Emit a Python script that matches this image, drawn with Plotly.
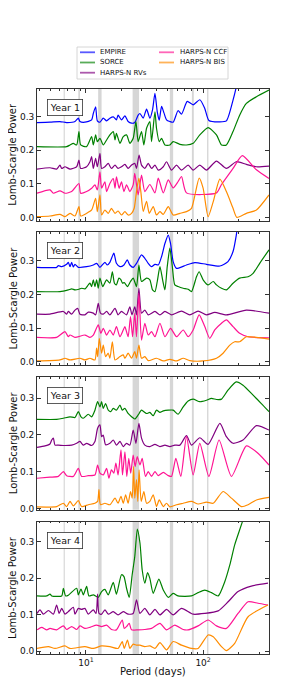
import plotly.graph_objects as go
import math

# ---------------- data (period in days, Lomb-Scargle power) ----------------
# Year 1
Y1_EMPIRE_P = [3.82, 4.93, 6.0, 6.84, 8.06, 8.6, 8.89, 9.8, 11.18, 11.55, 12.09, 12.5, 13.16, 14.05, 15.0, 16.0, 17.1, 18.2, 18.8, 20.1, 21.5, 22.9, 24.5, 26.1, 27.9, 28.9, 30.8, 32.9, 35.1, 37.0, 38.8, 40.6, 42.2, 44.2, 46.4, 48.7, 52.0, 55.5, 61.2, 65.4, 73.2, 82.2, 93.7, 103.3, 112, 139, 158, 180, 194, 234, 365]
Y1_EMPIRE_V = [0.283, 0.284, 0.286, 0.283, 0.286, 0.296, 0.286, 0.284, 0.291, 0.310, 0.330, 0.288, 0.284, 0.296, 0.288, 0.296, 0.300, 0.291, 0.305, 0.291, 0.303, 0.286, 0.281, 0.283, 0.305, 0.310, 0.296, 0.323, 0.296, 0.321, 0.370, 0.315, 0.290, 0.331, 0.311, 0.291, 0.286, 0.284, 0.319, 0.308, 0.346, 0.336, 0.351, 0.325, 0.289, 0.285, 0.288, 0.350, 0.397, 0.55, 0.8]
Y1_SORCE_P = [3.82, 6.84, 7.31, 7.8, 8.33, 8.71, 9.01, 10.13, 11.18, 11.55, 12.09, 12.5, 13.16, 14.05, 15.0, 16.0, 17.1, 17.7, 18.2, 19.5, 20.8, 22.2, 23.7, 25.3, 26.7, 27.9, 29.8, 31.2, 32.9, 35.1, 36.3, 38.8, 40.0, 42.2, 44.2, 47.2, 52.0, 55.5, 63.3, 72.1, 82.2, 93.7, 110.3, 130, 143.5, 158, 180, 205, 234, 285, 365]
Y1_SORCE_V = [0.211, 0.211, 0.216, 0.221, 0.216, 0.256, 0.216, 0.211, 0.241, 0.216, 0.246, 0.226, 0.236, 0.216, 0.231, 0.246, 0.256, 0.231, 0.251, 0.221, 0.241, 0.246, 0.221, 0.236, 0.286, 0.226, 0.256, 0.216, 0.266, 0.286, 0.226, 0.315, 0.266, 0.226, 0.236, 0.216, 0.216, 0.226, 0.218, 0.216, 0.221, 0.246, 0.268, 0.246, 0.216, 0.216, 0.256, 0.305, 0.340, 0.360, 0.380]
Y1_RVS_P = [3.82, 4.93, 5.62, 6.0, 6.21, 6.62, 7.31, 8.33, 8.71, 9.01, 10.13, 10.82, 11.18, 11.55, 12.09, 12.5, 13.16, 13.6, 14.51, 15.5, 16.5, 17.7, 18.8, 20.1, 21.5, 22.9, 24.5, 26.1, 27.0, 28.4, 29.8, 31.8, 34.0, 36.3, 38.8, 41.4, 45.7, 48.7, 53.7, 59.3, 65.4, 74.5, 82.2, 93.7, 106.8, 130, 158, 192, 234, 285, 365]
Y1_RVS_V = [0.144, 0.148, 0.144, 0.156, 0.146, 0.151, 0.144, 0.151, 0.171, 0.146, 0.151, 0.166, 0.181, 0.146, 0.176, 0.151, 0.191, 0.146, 0.151, 0.161, 0.146, 0.156, 0.146, 0.151, 0.158, 0.146, 0.156, 0.161, 0.146, 0.186, 0.156, 0.146, 0.161, 0.146, 0.156, 0.141, 0.151, 0.166, 0.141, 0.156, 0.141, 0.156, 0.141, 0.156, 0.141, 0.168, 0.146, 0.166, 0.158, 0.151, 0.153]
Y1_CCF_P = [3.82, 4.93, 5.27, 6.0, 6.62, 7.55, 8.71, 9.01, 10.13, 11.18, 11.93, 12.5, 13.16, 13.6, 14.51, 15.0, 16.0, 17.1, 17.7, 18.2, 19.2, 20.1, 21.1, 22.2, 23.7, 25.3, 26.1, 27.9, 29.8, 31.8, 35.1, 38.8, 41.4, 45.7, 50.4, 55.5, 61.2, 65.4, 72.1, 130, 143.5, 180, 216, 285, 365]
Y1_CCF_V = [0.072, 0.082, 0.072, 0.079, 0.072, 0.077, 0.101, 0.072, 0.077, 0.087, 0.097, 0.082, 0.136, 0.087, 0.106, 0.077, 0.101, 0.116, 0.087, 0.121, 0.087, 0.106, 0.077, 0.097, 0.077, 0.097, 0.131, 0.067, 0.126, 0.077, 0.098, 0.073, 0.117, 0.073, 0.112, 0.088, 0.107, 0.122, 0.073, 0.073, 0.098, 0.146, 0.184, 0.142, 0.116]
Y1_BIS_P = [3.82, 4.93, 6.0, 6.62, 7.31, 8.06, 8.71, 9.01, 10.13, 11.18, 12.09, 12.5, 13.16, 13.6, 14.51, 15.5, 16.5, 17.7, 18.8, 20.1, 21.5, 22.9, 24.5, 25.8, 27.0, 28.3, 29.4, 30.8, 32.9, 34.7, 37.5, 40.0, 42.8, 45.7, 50.4, 55.5, 63.3, 72.1, 79.6, 92.5, 100, 110.3, 122, 139, 158, 180, 194, 234, 285, 365]
Y1_BIS_V = [0.002, 0.004, 0.009, 0.002, 0.012, 0.004, 0.032, 0.004, 0.012, 0.022, 0.057, 0.017, 0.067, 0.007, 0.022, 0.012, 0.027, 0.012, 0.019, 0.007, 0.017, 0.007, 0.012, 0.027, 0.077, 0.117, 0.077, 0.018, 0.048, 0.012, 0.032, 0.007, 0.017, 0.009, 0.032, 0.007, 0.012, 0.017, 0.027, 0.117, 0.087, 0.002, 0.047, 0.114, 0.077, 0.027, 0.0, 0.012, 0.022, 0.067]

# Year 2
Y2_EMPIRE_P = [3.82, 5.62, 5.81, 6.21, 6.84, 7.07, 7.31, 7.55, 7.8, 8.06, 8.6, 10.13, 11.55, 12.33, 13.16, 14.51, 15.2, 16.0, 17.3, 18.2, 19.5, 21.1, 22.5, 23.7, 25.3, 27.0, 29.8, 31.8, 34.0, 36.3, 38.8, 41.4, 44.2, 47.2, 50.4, 52.7, 55.5, 59.3, 72.1, 85, 106.8, 139, 163, 180, 192, 205, 365]
Y2_EMPIRE_V = [0.281, 0.281, 0.286, 0.283, 0.290, 0.296, 0.283, 0.296, 0.282, 0.290, 0.281, 0.283, 0.288, 0.293, 0.281, 0.296, 0.288, 0.296, 0.323, 0.293, 0.283, 0.288, 0.303, 0.288, 0.281, 0.293, 0.318, 0.308, 0.293, 0.283, 0.290, 0.288, 0.313, 0.352, 0.377, 0.352, 0.298, 0.278, 0.288, 0.295, 0.290, 0.285, 0.298, 0.328, 0.377, 0.45, 0.8]
Y2_SORCE_P = [3.82, 6.0, 7.07, 7.55, 8.06, 8.71, 9.18, 9.8, 10.47, 10.82, 11.18, 11.55, 11.93, 12.33, 12.73, 13.16, 13.9, 15.0, 16.0, 16.8, 17.5, 18.2, 19.1, 19.9, 20.5, 21.2, 22.6, 24.0, 25.3, 27.0, 28.3, 29.8, 32.9, 35.1, 37.0, 38.8, 40.6, 42.8, 45.1, 47.2, 49.4, 52.0, 54.6, 57.3, 61.2, 67.6, 74.5, 79.6, 87.8, 92.5, 100, 110.3, 122, 130, 143.5, 158, 180, 205, 242, 267, 304, 365]
Y2_SORCE_V = [0.209, 0.209, 0.214, 0.217, 0.214, 0.216, 0.219, 0.217, 0.229, 0.234, 0.224, 0.244, 0.224, 0.244, 0.219, 0.249, 0.224, 0.244, 0.234, 0.268, 0.234, 0.229, 0.249, 0.244, 0.234, 0.236, 0.224, 0.239, 0.249, 0.224, 0.288, 0.239, 0.249, 0.244, 0.214, 0.209, 0.239, 0.283, 0.244, 0.214, 0.283, 0.338, 0.283, 0.229, 0.224, 0.219, 0.216, 0.209, 0.253, 0.268, 0.244, 0.229, 0.239, 0.229, 0.219, 0.214, 0.234, 0.249, 0.253, 0.263, 0.293, 0.333]
Y2_RVS_P = [3.82, 4.93, 6.41, 6.84, 7.07, 7.55, 8.06, 8.49, 8.89, 9.8, 10.47, 11.55, 12.1, 12.73, 13.3, 14.05, 15.0, 16.0, 17.7, 18.8, 20.1, 22.2, 23.7, 24.7, 26.1, 27.0, 28.3, 29.8, 31.8, 34.0, 38.8, 42.8, 47.2, 53.7, 65.4, 76.9, 90.6, 106.8, 125.7, 158, 234, 365]
Y2_RVS_V = [0.142, 0.142, 0.150, 0.142, 0.150, 0.142, 0.154, 0.159, 0.142, 0.140, 0.148, 0.145, 0.140, 0.174, 0.145, 0.142, 0.150, 0.140, 0.159, 0.140, 0.150, 0.140, 0.164, 0.140, 0.164, 0.140, 0.219, 0.145, 0.154, 0.140, 0.150, 0.140, 0.150, 0.140, 0.151, 0.140, 0.151, 0.140, 0.147, 0.140, 0.154, 0.145]
Y2_CCF_P = [3.82, 5.62, 6.62, 7.07, 7.31, 8.06, 9.8, 10.82, 11.55, 12.73, 13.4, 14.05, 15.0, 16.0, 17.1, 18.2, 19.5, 20.8, 21.5, 22.9, 24.0, 25.0, 26.1, 27.0, 28.3, 29.8, 31.8, 34.0, 36.3, 38.8, 42.8, 47.2, 52.7, 59.3, 67.6, 74.5, 82.2, 92.5, 103.3, 114, 125.7, 143.5, 158, 180, 205, 242, 365]
Y2_CCF_V = [0.073, 0.073, 0.090, 0.075, 0.080, 0.073, 0.080, 0.073, 0.080, 0.110, 0.085, 0.100, 0.080, 0.095, 0.080, 0.105, 0.075, 0.095, 0.105, 0.075, 0.135, 0.075, 0.145, 0.075, 0.204, 0.065, 0.115, 0.080, 0.090, 0.075, 0.115, 0.075, 0.100, 0.075, 0.095, 0.075, 0.095, 0.140, 0.105, 0.070, 0.095, 0.115, 0.125, 0.105, 0.085, 0.075, 0.072]
Y2_BIS_P = [3.82, 6.0, 6.62, 7.31, 8.89, 9.8, 10.82, 11.93, 12.33, 12.6, 12.99, 13.6, 14.05, 14.7, 15.5, 16.0, 16.8, 17.7, 19.5, 20.8, 21.5, 22.9, 24.5, 26.1, 27.0, 28.3, 29.8, 31.8, 34.0, 40.0, 45.7, 52.0, 59.3, 67.6, 76.9, 100, 130, 148, 169, 186, 205, 234, 285, 365]
Y2_BIS_V = [0.003, 0.006, 0.011, 0.006, 0.011, 0.006, 0.011, 0.006, 0.041, 0.016, 0.070, 0.026, 0.050, 0.016, 0.026, 0.011, 0.060, 0.006, 0.016, 0.021, 0.011, 0.026, 0.011, 0.031, 0.011, 0.050, 0.011, 0.016, 0.004, 0.011, 0.003, 0.008, 0.003, 0.011, 0.004, 0.003, 0.011, 0.026, 0.050, 0.060, 0.060, 0.075, 0.073, 0.068]

# Year 3 (no EMPIRE)
Y3_SORCE_P = [3.82, 5.62, 6.41, 7.31, 8.06, 8.6, 9.07, 9.49, 10.47, 11.18, 11.93, 12.57, 13.16, 13.6, 14.05, 14.7, 15.5, 16.3, 17.1, 18.2, 19.5, 20.4, 21.5, 22.9, 24.5, 26.1, 27.9, 29.8, 32.9, 35.1, 37.5, 40.0, 42.8, 45.7, 50.4, 55.5, 61.2, 67.6, 74.5, 82.2, 93.7, 106.8, 117.8, 130, 143.5, 163.5, 192, 219, 267, 314, 365]
Y3_SORCE_V = [0.242, 0.242, 0.245, 0.249, 0.247, 0.263, 0.249, 0.245, 0.256, 0.249, 0.267, 0.290, 0.276, 0.290, 0.272, 0.285, 0.267, 0.263, 0.272, 0.267, 0.281, 0.267, 0.272, 0.258, 0.249, 0.243, 0.254, 0.267, 0.258, 0.261, 0.252, 0.267, 0.261, 0.265, 0.267, 0.267, 0.256, 0.276, 0.292, 0.297, 0.290, 0.294, 0.299, 0.296, 0.297, 0.322, 0.344, 0.335, 0.308, 0.285, 0.263]
Y3_RVS_P = [3.82, 4.47, 4.93, 5.1, 5.27, 5.44, 5.81, 6.62, 7.55, 8.33, 8.89, 9.49, 10.13, 11.18, 11.93, 12.57, 13.16, 13.6, 14.05, 14.7, 16.0, 17.1, 18.2, 19.5, 20.8, 22.2, 23.7, 25.3, 26.7, 28.3, 29.8, 31.8, 35.1, 38.8, 42.8, 47.2, 52.0, 57.3, 63.3, 72.1, 79.6, 93.7, 110.3, 139, 158, 180, 219, 285, 365]
Y3_RVS_V = [0.166, 0.170, 0.175, 0.186, 0.191, 0.172, 0.172, 0.171, 0.172, 0.177, 0.182, 0.172, 0.177, 0.171, 0.182, 0.218, 0.227, 0.195, 0.199, 0.173, 0.177, 0.186, 0.172, 0.182, 0.168, 0.177, 0.172, 0.213, 0.177, 0.231, 0.191, 0.172, 0.168, 0.174, 0.168, 0.172, 0.168, 0.172, 0.172, 0.198, 0.172, 0.192, 0.174, 0.231, 0.195, 0.177, 0.186, 0.225, 0.213]
Y3_CCF_P = [3.82, 4.93, 5.81, 6.41, 6.84, 7.8, 8.6, 9.18, 10.47, 11.93, 12.57, 13.16, 14.05, 15.0, 15.7, 16.5, 17.3, 18.0, 18.8, 19.9, 20.5, 21.5, 22.3, 23.2, 24.1, 25.3, 26.3, 27.4, 28.9, 30.2, 32.2, 34.0, 36.3, 38.8, 41.4, 45.7, 50.4, 53.7, 58.5, 64.5, 72.1, 82.2, 93.7, 112, 136.8, 174.4, 234, 294, 365]
Y3_CCF_V = [0.082, 0.085, 0.087, 0.100, 0.089, 0.087, 0.109, 0.087, 0.089, 0.091, 0.118, 0.096, 0.091, 0.109, 0.082, 0.105, 0.096, 0.123, 0.091, 0.159, 0.091, 0.154, 0.087, 0.136, 0.096, 0.145, 0.114, 0.141, 0.118, 0.136, 0.087, 0.100, 0.087, 0.100, 0.089, 0.098, 0.089, 0.087, 0.136, 0.087, 0.195, 0.091, 0.177, 0.087, 0.186, 0.087, 0.170, 0.150, 0.118]
Y3_BIS_P = [3.82, 5.62, 6.41, 6.84, 7.31, 7.8, 8.6, 9.18, 10.47, 11.93, 12.57, 12.91, 13.3, 14.51, 16.0, 17.7, 18.8, 19.9, 20.8, 21.8, 22.9, 24.0, 24.8, 25.5, 26.1, 27.0, 27.7, 28.4, 29.6, 31.2, 32.9, 35.1, 37.5, 40.0, 42.2, 45.7, 48.7, 52.0, 59.3, 67.6, 79.6, 90.6, 106.8, 122, 148, 174.4, 212, 242, 285, 365]
Y3_BIS_V = [0.004, 0.005, 0.014, 0.005, 0.019, 0.007, 0.021, 0.005, 0.010, 0.014, 0.019, 0.051, 0.010, 0.014, 0.010, 0.028, 0.014, 0.033, 0.014, 0.037, 0.014, 0.046, 0.028, 0.114, 0.028, 0.078, 0.019, 0.105, 0.019, 0.046, 0.014, 0.019, 0.037, 0.005, 0.023, 0.005, 0.014, 0.004, 0.010, 0.014, 0.019, 0.012, 0.017, 0.014, 0.046, 0.028, 0.005, 0.010, 0.023, 0.030]

# Year 4 (no EMPIRE)
Y4_SORCE_P = [3.82, 4.63, 4.93, 5.1, 6.21, 6.41, 6.71, 7.07, 8.33, 8.6, 9.07, 9.49, 10.13, 10.6, 11.55, 12.73, 13.6, 14.51, 15.5, 17.1, 18.2, 20.1, 21.1, 22.2, 23.4, 24.8, 26.1, 27.45, 28.9, 30.2, 31.8, 33.55, 35.1, 37.5, 41.9, 45.7, 50.4, 55.5, 61.2, 79.6, 90.6, 103.3, 117.8, 134.4, 153, 169, 186, 219, 260, 365]
Y4_SORCE_V = [0.151, 0.151, 0.156, 0.151, 0.151, 0.172, 0.151, 0.153, 0.172, 0.154, 0.170, 0.154, 0.177, 0.151, 0.154, 0.147, 0.163, 0.169, 0.154, 0.188, 0.156, 0.209, 0.204, 0.172, 0.147, 0.209, 0.259, 0.334, 0.296, 0.222, 0.186, 0.215, 0.199, 0.158, 0.197, 0.167, 0.147, 0.158, 0.151, 0.151, 0.160, 0.167, 0.160, 0.151, 0.190, 0.236, 0.291, 0.36, 0.45, 0.6]
Y4_RVS_P = [3.82, 4.05, 4.33, 4.78, 5.27, 5.62, 5.9, 6.21, 6.62, 7.07, 7.8, 8.06, 8.6, 9.18, 9.8, 10.47, 11.55, 12.2, 12.57, 12.91, 13.6, 14.51, 15.5, 17.1, 18.8, 20.8, 22.9, 25.3, 27.0, 28.9, 31.8, 35.1, 38.8, 42.8, 48.7, 55.5, 65.4, 82.2, 103.3, 134.4, 163.5, 198.6, 258, 358]
Y4_RVS_V = [0.103, 0.113, 0.101, 0.111, 0.101, 0.126, 0.103, 0.117, 0.101, 0.108, 0.120, 0.101, 0.117, 0.114, 0.117, 0.101, 0.113, 0.103, 0.156, 0.103, 0.101, 0.113, 0.101, 0.108, 0.099, 0.108, 0.101, 0.103, 0.140, 0.103, 0.117, 0.099, 0.114, 0.099, 0.114, 0.099, 0.117, 0.101, 0.103, 0.110, 0.135, 0.163, 0.178, 0.186]
Y4_CCF_P = [3.82, 4.19, 4.63, 4.93, 5.62, 6.41, 6.84, 7.55, 8.33, 8.89, 9.8, 10.82, 12.33, 13.6, 15.0, 16.5, 18.2, 20.4, 21.2, 22.2, 23.4, 24.5, 27.9, 31.8, 36.3, 42.8, 48.7, 57.3, 67.6, 74.5, 90.6, 110.3, 130, 158, 198.6, 242, 294, 358]
Y4_CCF_V = [0.058, 0.065, 0.058, 0.062, 0.058, 0.069, 0.059, 0.067, 0.059, 0.069, 0.062, 0.065, 0.071, 0.067, 0.071, 0.059, 0.058, 0.085, 0.062, 0.067, 0.076, 0.058, 0.058, 0.059, 0.062, 0.076, 0.058, 0.071, 0.059, 0.058, 0.069, 0.085, 0.069, 0.062, 0.103, 0.135, 0.131, 0.126]
Y4_BIS_P = [3.82, 4.78, 5.44, 6.62, 7.31, 9.8, 11.55, 13.6, 16.0, 18.8, 20.4, 21.2, 22.6, 23.7, 25.3, 27.0, 28.9, 31.8, 35.1, 38.8, 42.8, 48.7, 55.5, 65.4, 79.6, 90.6, 110.3, 122, 143.5, 158, 186, 242, 358]
Y4_BIS_V = [0.007, 0.012, 0.007, 0.014, 0.007, 0.012, 0.007, 0.014, 0.012, 0.007, 0.026, 0.007, 0.030, 0.007, 0.019, 0.016, 0.016, 0.012, 0.014, 0.007, 0.023, 0.003, 0.026, 0.016, 0.007, 0.007, 0.044, 0.039, 0.012, 0.001, 0.021, 0.094, 0.126]

SERIES_NAMES = ["EMPIRE", "SORCE", "HARPS-N RVs", "HARPS-N CCF", "HARPS-N BIS"]
SERIES_COLORS = ["#0000ff", "#008000", "#800080", "#ff1493", "#ff8c00"]
YEAR_LABELS = ["Year 1", "Year 2", "Year 3", "Year 4"]
# highlighted period bands (days)
BAND_LO = [6.45, 8.6, 12.7, 25.0, 52.0, 80.2, 108.0]
BAND_HI = [6.6, 8.9, 13.6, 28.4, 55.5, 83.3, 111.0]
Y_TICKS = [0.0, 0.1, 0.2, 0.3]
X_TICKS = [10, 100]
X_TICK_TEXT = ["10<sup>1</sup>", "10<sup>2</sup>"]
X_MINOR = [4, 5, 6, 7, 8, 9, 20, 30, 40, 50, 60, 70, 80, 90, 200, 300]
X_RANGE_DAYS = [3.82, 365]
Y_RANGES = [[-0.010, 0.384], [-0.009, 0.386], [-0.0035, 0.358], [-0.009, 0.355]]

panels = [
    {"EMPIRE": (Y1_EMPIRE_P, Y1_EMPIRE_V), "SORCE": (Y1_SORCE_P, Y1_SORCE_V), "HARPS-N RVs": (Y1_RVS_P, Y1_RVS_V), "HARPS-N CCF": (Y1_CCF_P, Y1_CCF_V), "HARPS-N BIS": (Y1_BIS_P, Y1_BIS_V)},
    {"EMPIRE": (Y2_EMPIRE_P, Y2_EMPIRE_V), "SORCE": (Y2_SORCE_P, Y2_SORCE_V), "HARPS-N RVs": (Y2_RVS_P, Y2_RVS_V), "HARPS-N CCF": (Y2_CCF_P, Y2_CCF_V), "HARPS-N BIS": (Y2_BIS_P, Y2_BIS_V)},
    {"SORCE": (Y3_SORCE_P, Y3_SORCE_V), "HARPS-N RVs": (Y3_RVS_P, Y3_RVS_V), "HARPS-N CCF": (Y3_CCF_P, Y3_CCF_V), "HARPS-N BIS": (Y3_BIS_P, Y3_BIS_V)},
    {"SORCE": (Y4_SORCE_P, Y4_SORCE_V), "HARPS-N RVs": (Y4_RVS_P, Y4_RVS_V), "HARPS-N CCF": (Y4_CCF_P, Y4_CCF_V), "HARPS-N BIS": (Y4_BIS_P, Y4_BIS_V)},
]

# ---------------- layout ----------------
# the page body has an 8px margin; the figure is sized so that it fits the window
OFF = 8
W, H = 299 - 2 * OFF, 693 - 2 * OFF
FONT = "DejaVu Sans"


def fx(px):
    return (px - OFF) / W


def fy(py):
    return 1 - (py - OFF) / H


X_DOM = [fx(37), fx(269)]
PANEL_PX = [(88.7, 220.7), (232.0, 365.0), (376.7, 509.7), (521.5, 654.3)]
Y_DOMS = [[fy(b), fy(t)] for t, b in PANEL_PX]

fig = go.Figure()
annotations = []
shapes = []

for i, panel in enumerate(panels):
    n = i + 1
    xa = "x" if n == 1 else f"x{n}"
    ya = "y" if n == 1 else f"y{n}"
    for name, color in zip(SERIES_NAMES, SERIES_COLORS):
        if name not in panel:
            continue
        px, pv = panel[name]
        fig.add_trace(go.Scatter(x=px, y=pv, mode="lines", name=name,
                                 line=dict(color=color, width=1.2, shape="spline", smoothing=0.6),
                                 xaxis=xa, yaxis=ya, showlegend=False, hoverinfo="skip"))
    for lo, hi in zip(BAND_LO, BAND_HI):
        shapes.append(dict(type="rect", xref=xa, yref=f"{ya} domain", x0=lo, x1=hi, y0=0, y1=1,
                           fillcolor="rgba(0,0,0,0.16)", line=dict(width=0), layer="below"))
    last = (n == 4)
    axname = "xaxis" if n == 1 else f"xaxis{n}"
    yaxname = "yaxis" if n == 1 else f"yaxis{n}"
    fig.layout[axname] = dict(
        domain=X_DOM, anchor=ya, type="log",
        range=[math.log10(X_RANGE_DAYS[0]), math.log10(X_RANGE_DAYS[1])],
        tickmode="array", tickvals=X_TICKS, ticktext=X_TICK_TEXT,
        showticklabels=last, ticks="inside", ticklen=4, tickwidth=0.8, tickcolor="#333",
        minor=dict(tickmode="array", tickvals=X_MINOR, ticks="inside", ticklen=2, tickwidth=0.6, tickcolor="#333"),
        showline=True, linecolor="#333", linewidth=0.8, mirror="ticks", showgrid=False, zeroline=False,
        tickfont=dict(family=FONT, size=9, color="#111"), automargin=False,
    )
    fig.layout[yaxname] = dict(
        domain=Y_DOMS[i], anchor=xa, range=Y_RANGES[i],
        tickmode="array", tickvals=Y_TICKS, ticktext=[f"{v:.1f}" for v in Y_TICKS],
        ticks="inside", ticklen=4, tickwidth=0.8, tickcolor="#333",
        showline=True, linecolor="#333", linewidth=0.8, mirror="ticks", showgrid=False, zeroline=False,
        tickfont=dict(family=FONT, size=9, color="#111"), automargin=False,
    )
    # year label box
    annotations.append(dict(text=YEAR_LABELS[i], xref=f"{xa} domain", yref=f"{ya} domain",
                            x=9.5 / 232, y=1 - 10 / 132, xanchor="left", yanchor="top", showarrow=False,
                            font=dict(family=FONT, size=9.5, color="#111"),
                            bordercolor="#333", borderwidth=0.8, borderpad=2, bgcolor="white"))
    # y axis title
    annotations.append(dict(text="Lomb-Scargle Power", xref="paper", yref="paper",
                            x=fx(13), y=(Y_DOMS[i][0] + Y_DOMS[i][1]) / 2, xanchor="center", yanchor="middle",
                            textangle=-90, showarrow=False, font=dict(family=FONT, size=10, color="#111")))

annotations.append(dict(text="Period (days)", xref="paper", yref="paper", x=fx(153), y=fy(671.7),
                        xanchor="center", yanchor="middle", showarrow=False,
                        font=dict(family=FONT, size=10, color="#111")))

# legend (drawn manually: two columns)
shapes.append(dict(type="rect", xref="paper", yref="paper", x0=fx(77), x1=fx(228),
                   y0=fy(79), y1=fy(47), line=dict(color="#cccccc", width=0.8), fillcolor="white"))
LEG_ROWS = [52.3, 62.5, 72.7]
leg_pos = [(0, 0), (0, 1), (0, 2), (1, 0), (1, 1)]
for (col, row), name, color in zip(leg_pos, SERIES_NAMES, SERIES_COLORS):
    lx0 = fx(80 if col == 0 else 159)
    lx1 = fx(95 if col == 0 else 174)
    tx = fx(98 if col == 0 else 178)
    yy = fy(LEG_ROWS[row])
    shapes.append(dict(type="line", xref="paper", yref="paper", x0=lx0, x1=lx1, y0=yy, y1=yy,
                       line=dict(color=color, width=1.8), opacity=0.65))
    annotations.append(dict(text=name, xref="paper", yref="paper", x=tx, y=yy, xanchor="left", yanchor="middle",
                            showarrow=False, font=dict(family=FONT, size=7, color="#111")))

fig.update_layout(width=W, height=H, margin=dict(l=0, r=0, t=0, b=0), autosize=False,
                  paper_bgcolor="white", plot_bgcolor="white", showlegend=False,
                  shapes=shapes, annotations=annotations, font=dict(family=FONT))

fig.write_html("out.html")
